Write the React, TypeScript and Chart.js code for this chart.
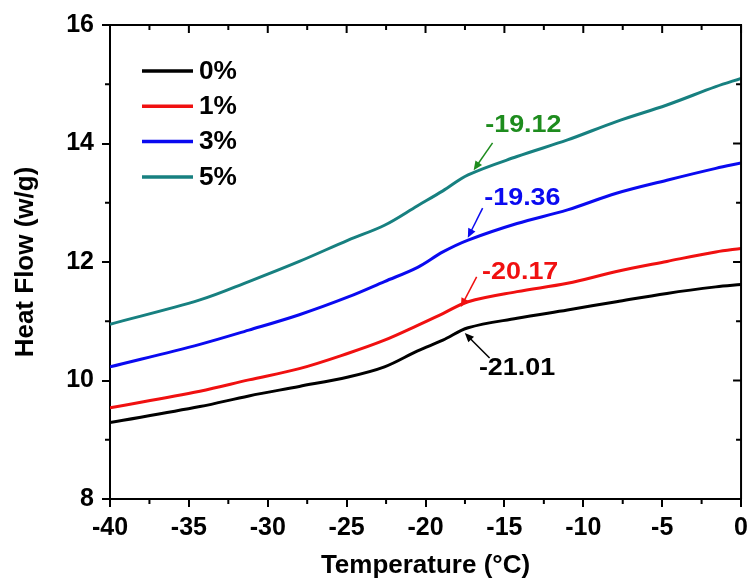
import React, { useEffect, useRef } from 'react';
import { Chart, registerables } from 'chart.js';

Chart.register(...registerables);

// ---------- data ----------
const temperatures = [-40, -34.3, -31.2, -28, -24.9, -22.6, -20.5, -18.9, -17.3, -14.2, -11, -7.9, -4.7, -1.6, 0];
const flow0 = [9.29, 9.56, 9.74, 9.9, 10.06, 10.23, 10.5, 10.68, 10.89, 11.05, 11.19, 11.33, 11.47, 11.58, 11.62];
const flow1 = [9.54, 9.82, 10.01, 10.2, 10.46, 10.68, 10.93, 11.13, 11.33, 11.5, 11.64, 11.84, 12.01, 12.17, 12.23];
const flow3 = [10.23, 10.61, 10.85, 11.11, 11.41, 11.67, 11.91, 12.17, 12.37, 12.65, 12.88, 13.16, 13.38, 13.58, 13.67];
const flow5 = [10.95, 11.36, 11.67, 12.01, 12.37, 12.62, 12.95, 13.2, 13.47, 13.78, 14.06, 14.37, 14.65, 14.96, 15.1];
const seriesLabels = ['0%', '1%', '3%', '5%'];
const xTickValues = [-40, -35, -30, -25, -20, -15, -10, -5, 0];
const yTickValues = [8, 10, 12, 14, 16];

// annotation labels (glass transition temperatures), anchored in data units
const noteTexts = ['-21.01', '-20.17', '-19.36', '-19.12'];
const noteTextT = [-14.2, -14.0, -13.86, -13.8];
const noteTextV = [10.21, 11.83, 13.08, 14.31];
const arrowFromT = [-15.94, -16.76, -16.38, -15.75];
const arrowFromV = [10.38, 11.75, 12.91, 14.01];
const arrowToT = [-17.51, -17.76, -17.32, -16.95];
const arrowToV = [10.8, 11.24, 12.41, 13.55];

// ---------- styles ----------
const lineColors = ['#000000', '#f01010', '#0a0af0', '#178080'];
const noteColors = ['#000000', '#f01010', '#0a0af0', '#1e8c1e'];
const FONT = '"Liberation Sans", Arial, sans-serif';

const extrasPlugin = {
  id: 'extras',
  afterDraw(chart: any) {
    const { ctx, chartArea: a, scales } = chart;
    const xs = scales.x;
    const ys = scales.y;
    ctx.save();
    ctx.strokeStyle = '#000';
    ctx.lineWidth = 2;
    // top & right frame
    ctx.beginPath();
    ctx.moveTo(a.left, a.top);
    ctx.lineTo(a.right, a.top);
    ctx.lineTo(a.right, a.bottom);
    ctx.stroke();
    ctx.beginPath();
    for (const v of xTickValues) {
      const px = xs.getPixelForValue(v);
      ctx.moveTo(px, a.top);
      ctx.lineTo(px, a.top + 8);
    }
    for (let i = 0; i < xTickValues.length - 1; i++) {
      const v = (xTickValues[i] + xTickValues[i + 1]) / 2;
      const px = xs.getPixelForValue(v);
      ctx.moveTo(px, a.top);
      ctx.lineTo(px, a.top + 5);
      ctx.moveTo(px, a.bottom);
      ctx.lineTo(px, a.bottom + 5);
    }
    for (const v of yTickValues) {
      const py = ys.getPixelForValue(v);
      ctx.moveTo(a.right, py);
      ctx.lineTo(a.right - 8, py);
    }
    for (let i = 0; i < yTickValues.length - 1; i++) {
      const v = (yTickValues[i] + yTickValues[i + 1]) / 2;
      const py = ys.getPixelForValue(v);
      ctx.moveTo(a.right, py);
      ctx.lineTo(a.right - 5, py);
      ctx.moveTo(a.left, py);
      ctx.lineTo(a.left - 5, py);
    }
    ctx.stroke();

    // legend
    ctx.textBaseline = 'middle';
    ctx.textAlign = 'left';
    seriesLabels.forEach((lab, i) => {
      const y = a.top + 46 + i * 35.3;
      ctx.strokeStyle = lineColors[i];
      ctx.lineWidth = 3.5;
      ctx.beginPath();
      ctx.moveTo(a.left + 32, y);
      ctx.lineTo(a.left + 83, y);
      ctx.stroke();
      ctx.fillStyle = '#000';
      ctx.save();
      ctx.translate(a.left + 89, y + 1);
      ctx.scale(1.05, 1);
      ctx.font = `bold 25px ${FONT}`;
      ctx.fillText(lab, 0, 0);
      ctx.restore();
    });

    // annotations
    noteTexts.forEach((t, i) => {
      const c = noteColors[i];
      ctx.fillStyle = c;
      ctx.strokeStyle = c;
      ctx.save();
      ctx.translate(xs.getPixelForValue(noteTextT[i]), ys.getPixelForValue(noteTextV[i]));
      ctx.scale(1.12, 1);
      ctx.font = `bold 24px ${FONT}`;
      ctx.textAlign = 'center';
      ctx.textBaseline = 'middle';
      ctx.fillText(t, 0, 0);
      ctx.restore();
      const x1 = xs.getPixelForValue(arrowFromT[i]);
      const y1 = ys.getPixelForValue(arrowFromV[i]);
      const x2 = xs.getPixelForValue(arrowToT[i]);
      const y2 = ys.getPixelForValue(arrowToV[i]);
      const ang = Math.atan2(y2 - y1, x2 - x1);
      const hl = 9;
      const hw = 4;
      ctx.lineWidth = 1.5;
      ctx.beginPath();
      ctx.moveTo(x1, y1);
      ctx.lineTo(x2 - Math.cos(ang) * hl * 0.8, y2 - Math.sin(ang) * hl * 0.8);
      ctx.stroke();
      ctx.beginPath();
      ctx.moveTo(x2, y2);
      ctx.lineTo(x2 - Math.cos(ang) * hl - Math.sin(ang) * hw, y2 - Math.sin(ang) * hl + Math.cos(ang) * hw);
      ctx.lineTo(x2 - Math.cos(ang) * hl + Math.sin(ang) * hw, y2 - Math.sin(ang) * hl - Math.cos(ang) * hw);
      ctx.closePath();
      ctx.fill();
    });
    ctx.restore();
  },
};

export default function App() {
  const ref = useRef<HTMLCanvasElement | null>(null);
  useEffect(() => {
    if (!ref.current) return;
    const series = [flow0, flow1, flow3, flow5];
    const chart = new Chart(ref.current, {
      type: 'line',
      data: {
        datasets: series.map((s, i) => ({
          label: seriesLabels[i],
          data: temperatures.map((t, j) => ({ x: t, y: s[j] })),
          borderColor: lineColors[i],
          backgroundColor: lineColors[i],
          borderWidth: 3,
          pointRadius: 0,
          tension: 0.35,
          fill: false,
        })),
      },
      options: {
        responsive: false,
        animation: false,
        layout: { padding: { top: 25, right: 9, left: 8, bottom: 2 } },
        plugins: { legend: { display: false }, tooltip: { enabled: false } },
        scales: {
          x: {
            type: 'linear',
            min: -40,
            max: 0,
            afterFit: (s: any) => { s.height = 84; },
            afterBuildTicks: (s: any) => { s.ticks = xTickValues.map((v) => ({ value: v })); },
            border: { display: true, color: '#000', width: 2 },
            grid: { display: true, drawOnChartArea: false, drawTicks: true, tickLength: 8, color: '#000', lineWidth: 2 },
            ticks: { color: '#000', font: { family: FONT, size: 25, weight: 'bold' }, padding: 6, maxRotation: 0 },
            title: { display: true, text: 'Temperature (°C)', color: '#000', font: { family: FONT, size: 26, weight: 'bold' }, padding: { top: 0, bottom: 2 } },
          },
          y: {
            type: 'linear',
            min: 8,
            max: 16,
            afterFit: (s: any) => { s.width = 102; },
            afterBuildTicks: (s: any) => { s.ticks = yTickValues.map((v) => ({ value: v })); },
            border: { display: true, color: '#000', width: 2 },
            grid: { display: true, drawOnChartArea: false, drawTicks: true, tickLength: 8, color: '#000', lineWidth: 2 },
            ticks: { color: '#000', font: { family: FONT, size: 25, weight: 'bold' }, padding: 8 },
            title: { display: true, text: 'Heat Flow (w/g)', color: '#000', font: { family: FONT, size: 26, weight: 'bold' }, padding: { top: 2, bottom: 0 } },
          },
        },
      },
      plugins: [extrasPlugin],
    });
    return () => chart.destroy();
  }, []);
  return (
    <div style={{ position: 'absolute', left: 0, top: 0, width: 754, height: 585, background: '#fff' }}>
      <canvas ref={ref} width={754} height={585} style={{ display: 'block' }} />
    </div>
  );
}
